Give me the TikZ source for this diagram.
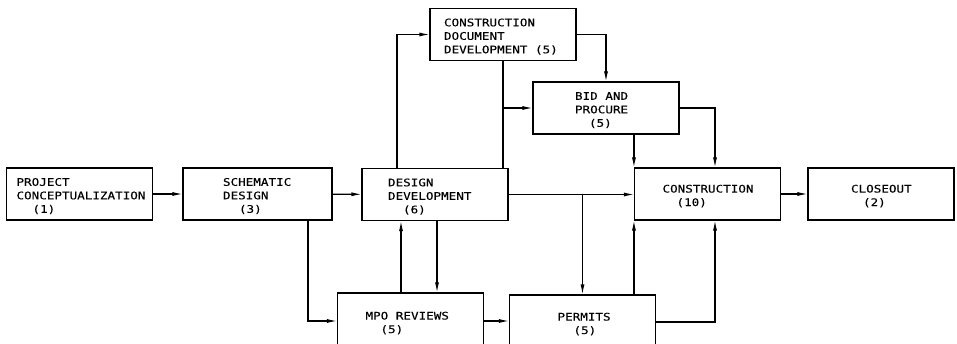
\documentclass[tikz,border=0pt]{standalone}
\usepackage{fontspec}
\newfontfamily\cadfont[FakeStretch=1.2,FakeBold=0.2]{DejaVu Sans Mono}
\usepackage{tikz}
\usetikzlibrary{positioning,arrows.meta}
\newcommand{\indt}[1]{\hspace*{#1pt}}
\DeclareRobustCommand{\cadsize}{\fontsize{10.5}{13.5}\selectfont}

\begin{document}
\begin{tikzpicture}[x=1pt,y=-1pt,line width=1.1pt,
  blk/.style={draw, minimum height=52pt, text width=138pt, inner xsep=4pt,
    inner ysep=0pt, align=left, font=\cadfont\cadsize,
    execute at begin node=\rule{0pt}{12pt}},
  arr/.style={-{Latex[length=10pt,width=4pt]}}]

\useasboundingbox (0,0) rectangle (957,344);

% boxes
\node[blk] (proj) at (79.5,194) {\indt{6}PROJECT\\\indt{6}CONCEPTUALIZATION\\\indt{22}(1)};
\node[blk,text width=141pt] (schem) at (257.5,194) {\indt{36}SCHEMATIC\\\indt{36}DESIGN\\\indt{52}(3)};
\node[blk] (dd) at (435,194.5) {\indt{22}DESIGN\\\indt{22}DEVELOPMENT\\\indt{37}(6)};
\node[blk] (cdd) at (503,34.5) {\indt{10}CONSTRUCTION\\\indt{10}DOCUMENT\\\indt{10}DEVELOPMENT\indt{7.6}(5)};
\node[blk] (bid) at (606,108) {\indt{38}BID\indt{7.6}AND\\\indt{38}PROCURE\\\indt{52}(5)};
\node[blk] (cons) at (707.5,194) {\indt{24}CONSTRUCTION\\\indt{38}(10)};
\node[blk] (close) at (881,194) {\indt{39}CLOSEOUT\\\indt{51}(2)};
\node[blk,minimum height=56pt] (mpo) at (410.5,321) {\indt{24}MPO\indt{7.6}REVIEWS\\\indt{39}(5)};
\node[blk,minimum height=54pt] (perm) at (582.5,322) {\indt{44}PERMITS\\\indt{60}(5)};

% bend points
\coordinate (sd) at (308,0);
\coordinate (ddup) at (397,0);
\coordinate (mup) at (401,0);
\coordinate (mdn) at (437,0);
\coordinate (bcr) at (715,0);

% connectors
\draw[arr] (proj) -- (schem);
\draw[arr] (schem) -- (dd);
\draw[arr] (dd.east) -- (dd.east -| cons.west);
\draw[arr] (cons) -- (close);
\draw[arr] (schem.south -| sd) |- (mpo.west);
\draw[arr] (dd.north -| ddup) |- (cdd.west);
\draw (cdd.south) -- (cdd.south |- dd.north);
\draw[arr] (cdd.south |- bid.west) -- (bid.west);
\draw[arr] (cdd.east) -| (bid.north);
\draw[arr] (bid.east) -| (cons.north -| bcr);
\draw[arr] (bid.south -| cons.north west) -- (cons.north west);
\draw[arr] (dd.east -| perm.north) -- (perm.north);
\draw[arr] (mpo.north -| mup) -- (dd.south -| mup);
\draw[arr] (dd.south -| mdn) -- (mpo.north -| mdn);
\draw[arr] (mpo.east) -- (mpo.east -| perm.west);
\draw[arr] (perm.north -| cons.south west) -- (cons.south west);
\draw[arr] (perm.east) -| (cons.south -| bcr);

\end{tikzpicture}
\end{document}
